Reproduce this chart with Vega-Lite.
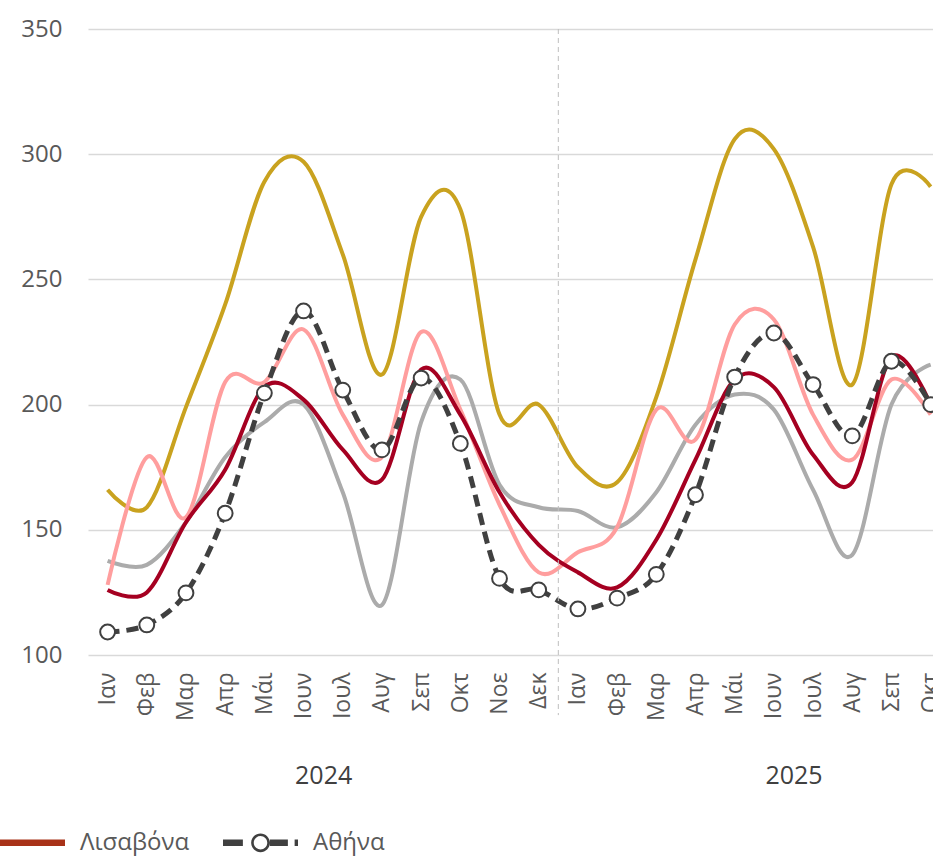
{
  "$schema": "https://vega.github.io/schema/vega-lite/v6.json",
  "width": 845,
  "height": 626,
  "autosize": {"type": "none"},
  "padding": {"left": 88, "top": 29, "right": 0, "bottom": 205},
  "background": "white",
  "config": {"view": {"stroke": null}, "font": "Open Sans"},
  "datasets": {
    "series": [
      {"city": "Βαρκελώνη", "t": 0, "v": 166}, {"city": "Βαρκελώνη", "t": 1, "v": 159}, {"city": "Βαρκελώνη", "t": 2, "v": 199}, {"city": "Βαρκελώνη", "t": 3, "v": 240}, {"city": "Βαρκελώνη", "t": 4, "v": 289}, {"city": "Βαρκελώνη", "t": 5, "v": 297}, {"city": "Βαρκελώνη", "t": 6, "v": 260}, {"city": "Βαρκελώνη", "t": 7, "v": 212}, {"city": "Βαρκελώνη", "t": 8, "v": 275}, {"city": "Βαρκελώνη", "t": 9, "v": 278}, {"city": "Βαρκελώνη", "t": 10, "v": 196}, {"city": "Βαρκελώνη", "t": 11, "v": 200},
      {"city": "Βαρκελώνη", "t": 12, "v": 175}, {"city": "Βαρκελώνη", "t": 13, "v": 169}, {"city": "Βαρκελώνη", "t": 14, "v": 203}, {"city": "Βαρκελώνη", "t": 15, "v": 258}, {"city": "Βαρκελώνη", "t": 16, "v": 306}, {"city": "Βαρκελώνη", "t": 17, "v": 302}, {"city": "Βαρκελώνη", "t": 18, "v": 263}, {"city": "Βαρκελώνη", "t": 19, "v": 208}, {"city": "Βαρκελώνη", "t": 20, "v": 288}, {"city": "Βαρκελώνη", "t": 21, "v": 287},
      {"city": "Μαδρίτη", "t": 0, "v": 137.6}, {"city": "Μαδρίτη", "t": 1, "v": 136}, {"city": "Μαδρίτη", "t": 2, "v": 153}, {"city": "Μαδρίτη", "t": 3, "v": 179}, {"city": "Μαδρίτη", "t": 4, "v": 193}, {"city": "Μαδρίτη", "t": 5, "v": 200}, {"city": "Μαδρίτη", "t": 6, "v": 165}, {"city": "Μαδρίτη", "t": 7, "v": 120}, {"city": "Μαδρίτη", "t": 8, "v": 193}, {"city": "Μαδρίτη", "t": 9, "v": 210}, {"city": "Μαδρίτη", "t": 10, "v": 168}, {"city": "Μαδρίτη", "t": 11, "v": 159},
      {"city": "Μαδρίτη", "t": 12, "v": 157.5}, {"city": "Μαδρίτη", "t": 13, "v": 151}, {"city": "Μαδρίτη", "t": 14, "v": 165}, {"city": "Μαδρίτη", "t": 15, "v": 192}, {"city": "Μαδρίτη", "t": 16, "v": 204}, {"city": "Μαδρίτη", "t": 17, "v": 198}, {"city": "Μαδρίτη", "t": 18, "v": 166}, {"city": "Μαδρίτη", "t": 19, "v": 140}, {"city": "Μαδρίτη", "t": 20, "v": 200}, {"city": "Μαδρίτη", "t": 21, "v": 216},
      {"city": "Ρώμη", "t": 0, "v": 128}, {"city": "Ρώμη", "t": 1, "v": 179}, {"city": "Ρώμη", "t": 2, "v": 155}, {"city": "Ρώμη", "t": 3, "v": 209}, {"city": "Ρώμη", "t": 4, "v": 209}, {"city": "Ρώμη", "t": 5, "v": 230}, {"city": "Ρώμη", "t": 6, "v": 196}, {"city": "Ρώμη", "t": 7, "v": 179}, {"city": "Ρώμη", "t": 8, "v": 229}, {"city": "Ρώμη", "t": 9, "v": 198}, {"city": "Ρώμη", "t": 10, "v": 160}, {"city": "Ρώμη", "t": 11, "v": 133},
      {"city": "Ρώμη", "t": 12, "v": 141}, {"city": "Ρώμη", "t": 13, "v": 151}, {"city": "Ρώμη", "t": 14, "v": 198}, {"city": "Ρώμη", "t": 15, "v": 186}, {"city": "Ρώμη", "t": 16, "v": 232}, {"city": "Ρώμη", "t": 17, "v": 234}, {"city": "Ρώμη", "t": 18, "v": 196}, {"city": "Ρώμη", "t": 19, "v": 178}, {"city": "Ρώμη", "t": 20, "v": 210}, {"city": "Ρώμη", "t": 21, "v": 196},
      {"city": "Λισαβόνα", "t": 0, "v": 126}, {"city": "Λισαβόνα", "t": 1, "v": 125}, {"city": "Λισαβόνα", "t": 2, "v": 153}, {"city": "Λισαβόνα", "t": 3, "v": 174}, {"city": "Λισαβόνα", "t": 4, "v": 207}, {"city": "Λισαβόνα", "t": 5, "v": 202}, {"city": "Λισαβόνα", "t": 6, "v": 182}, {"city": "Λισαβόνα", "t": 7, "v": 170}, {"city": "Λισαβόνα", "t": 8, "v": 214}, {"city": "Λισαβόνα", "t": 9, "v": 196}, {"city": "Λισαβόνα", "t": 10, "v": 165}, {"city": "Λισαβόνα", "t": 11, "v": 144},
      {"city": "Λισαβόνα", "t": 12, "v": 133}, {"city": "Λισαβόνα", "t": 13, "v": 127}, {"city": "Λισαβόνα", "t": 14, "v": 146}, {"city": "Λισαβόνα", "t": 15, "v": 178}, {"city": "Λισαβόνα", "t": 16, "v": 210}, {"city": "Λισαβόνα", "t": 17, "v": 207}, {"city": "Λισαβόνα", "t": 18, "v": 180}, {"city": "Λισαβόνα", "t": 19, "v": 169}, {"city": "Λισαβόνα", "t": 20, "v": 219}, {"city": "Λισαβόνα", "t": 21, "v": 200},
      {"city": "Αθήνα", "t": 0, "v": 109.2}, {"city": "Αθήνα", "t": 1, "v": 112}, {"city": "Αθήνα", "t": 2, "v": 124.8}, {"city": "Αθήνα", "t": 3, "v": 156.6}, {"city": "Αθήνα", "t": 4, "v": 204.6}, {"city": "Αθήνα", "t": 5, "v": 237.4}, {"city": "Αθήνα", "t": 6, "v": 205.8}, {"city": "Αθήνα", "t": 7, "v": 181.9}, {"city": "Αθήνα", "t": 8, "v": 210.6}, {"city": "Αθήνα", "t": 9, "v": 184.5}, {"city": "Αθήνα", "t": 10, "v": 130.6}, {"city": "Αθήνα", "t": 11, "v": 126},
      {"city": "Αθήνα", "t": 12, "v": 118.4}, {"city": "Αθήνα", "t": 13, "v": 122.7}, {"city": "Αθήνα", "t": 14, "v": 132.2}, {"city": "Αθήνα", "t": 15, "v": 164}, {"city": "Αθήνα", "t": 16, "v": 211}, {"city": "Αθήνα", "t": 17, "v": 228.6}, {"city": "Αθήνα", "t": 18, "v": 208}, {"city": "Αθήνα", "t": 19, "v": 187.5}, {"city": "Αθήνα", "t": 20, "v": 217.3}, {"city": "Αθήνα", "t": 21, "v": 200}
    ],
    "sep": [{"t": 11.5}]
  },
  "layer": [
    {
      "data": {"name": "series"},
      "transform": [{"filter": "datum.city != 'Αθήνα'"}],
      "mark": {"type": "line", "interpolate": "cardinal", "strokeWidth": 4},
      "encoding": {
        "x": {
          "field": "t", "type": "quantitative",
          "scale": {"domain": [-0.5, 21.06], "nice": false, "zero": false},
          "axis": {
            "orient": "bottom",
            "values": [0,1,2,3,4,5,6,7,8,9,10,11,12,13,14,15,16,17,18,19,20,21],
            "labelExpr": "['Ιαν','Φεβ','Μαρ','Απρ','Μάι','Ιουν','Ιουλ','Αυγ','Σεπ','Οκτ','Νοε','Δεκ'][datum.value % 12]",
            "labelAngle": -90, "labelFontSize": 23, "labelColor": "#595959",
            "labelPadding": 17, "ticks": false, "tickSize": 0, "domain": false, "grid": false,
            "title": null, "labelOverlap": false, "labelBound": false, "labelFlush": false
          }
        },
        "y": {
          "field": "v", "type": "quantitative",
          "scale": {"domain": [100, 350], "nice": false, "zero": false},
          "axis": {
            "values": [100, 150, 200, 250, 300, 350],
            "labelFontSize": 24, "labelColor": "#595959", "labelPadding": 26,
            "ticks": false, "tickSize": 0, "domain": false, "grid": true,
            "gridColor": "#D9D9D9", "gridWidth": 1.5, "title": null
          }
        },
        "color": {
          "field": "city", "type": "nominal",
          "scale": {
            "domain": ["Βαρκελώνη", "Μαδρίτη", "Ρώμη", "Λισαβόνα", "Αθήνα"],
            "range": ["#C9A21F", "#ABABAB", "#FF9E9E", "#A50021", "#404040"]
          },
          "legend": {
            "values": ["Λισαβόνα", "Αθήνα"],
            "orient": "none", "legendX": -98, "legendY": 776, "direction": "horizontal",
            "title": null, "symbolSize": 5625, "labelFontSize": 24, "labelColor": "#595959",
            "labelOffset": 15, "columnPadding": 33, "symbolStrokeWidth": 0,
            "encode": {
              "symbols": {
                "update": {
                  "shape": {"signal": "datum.value === 'Αθήνα' ? 'M-1,-0.085H-0.47V0.085H-1Z M0.25,-0.085H0.73V0.085H0.25Z M0.91,-0.085H1V0.085H0.91Z M-0.25,0A0.25,0.25 0 1,1 0.25,0A0.25,0.25 0 1,1 -0.25,0Z M-0.18,0A0.18,0.18 0 1,0 0.18,0A0.18,0.18 0 1,0 -0.18,0Z' : 'M-1,-0.085H1V0.085H-1Z'"},
                  "fill": {"signal": "datum.value === 'Αθήνα' ? '#404040' : '#A83218'"},
                  "stroke": {"value": "transparent"},
                  "strokeWidth": {"value": 0},
                  "opacity": {"value": 1}
                }
              }
            }
          }
        }
      }
    },
    {
      "data": {"name": "series"},
      "transform": [{"filter": "datum.city == 'Αθήνα'"}],
      "mark": {"type": "line", "interpolate": "cardinal", "strokeWidth": 5, "strokeDash": [12, 7]},
      "encoding": {
        "x": {"field": "t", "type": "quantitative", "scale": {"domain": [-0.5, 21.06], "nice": false, "zero": false}, "axis": null},
        "y": {"field": "v", "type": "quantitative"},
        "color": {"field": "city", "type": "nominal"}
      }
    },
    {
      "data": {"name": "series"},
      "transform": [{"filter": "datum.city == 'Αθήνα'"}],
      "mark": {"type": "point", "filled": true, "fill": "white", "stroke": "#404040", "strokeWidth": 2, "size": 220, "opacity": 1},
      "encoding": {
        "x": {"field": "t", "type": "quantitative", "scale": {"domain": [-0.5, 21.06], "nice": false, "zero": false}, "axis": null},
        "y": {"field": "v", "type": "quantitative"}
      }
    },
    {
      "data": {"name": "sep"},
      "mark": {"type": "rule", "color": "#BFBFBF", "strokeWidth": 1, "strokeDash": [5, 4]},
      "encoding": {
        "x": {
          "field": "t", "type": "quantitative",
          "scale": {"domain": [-0.5, 21.06], "nice": false, "zero": false},
          "axis": {
            "orient": "bottom",
            "values": [5.5, 17.5],
            "labelExpr": "datum.value < 12 ? '2024' : '2025'",
            "labelAngle": 0, "labelFontSize": 25, "labelColor": "#404040",
            "labelPadding": 108, "ticks": false, "tickSize": 0, "domain": false, "grid": false,
            "title": null, "labelBound": false, "labelFlush": false, "labelOverlap": false
          }
        },
        "y": {"datum": 350},
        "y2": {"datum": 76}
      }
    }
  ],
  "resolve": {"axis": {"x": "independent"}}
}
